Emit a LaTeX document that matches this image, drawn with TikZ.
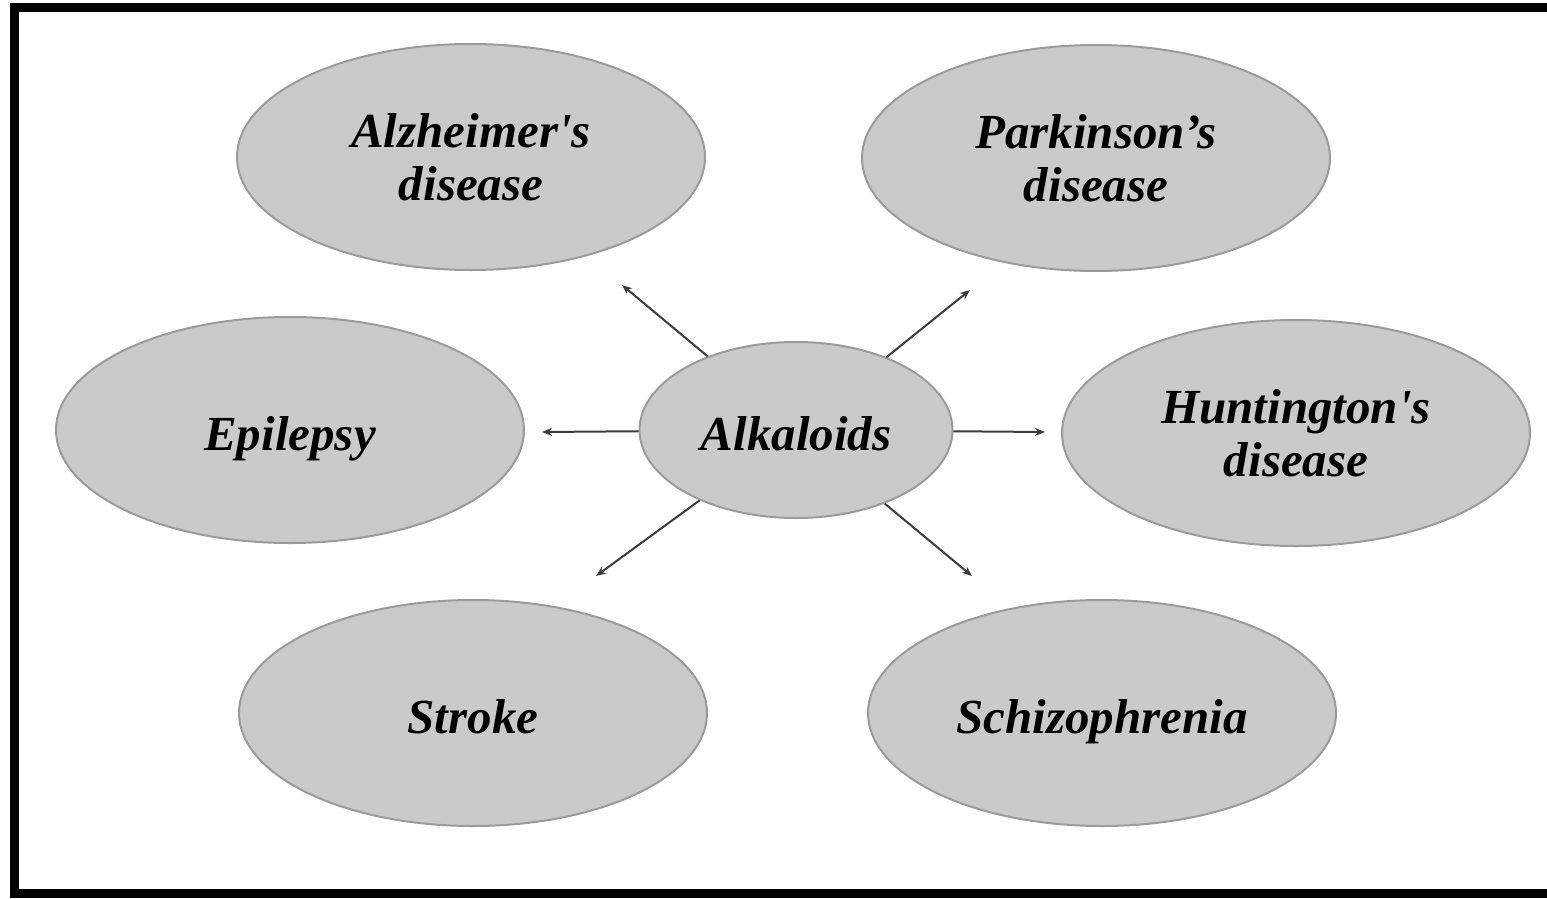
\documentclass[tikz,border=0pt]{standalone}
\usepackage{fontspec}
\setmainfont{Liberation Serif}
\usetikzlibrary{shapes.geometric,arrows.meta}
\definecolor{ellfill}{RGB}{202,202,202}
\definecolor{ellrim}{RGB}{155,155,155}
\definecolor{arrowcol}{RGB}{60,60,60}
\tikzset{
  disease/.style={ellipse, draw=ellrim, line width=1pt, fill=ellfill,
    minimum width=234pt, minimum height=113pt, inner sep=0pt,
    align=center, font=\fontsize{24.5}{26.5}\selectfont\bfseries\itshape},
  oneline/.style={text height=20pt, text depth=0pt},
  hub/.style={disease, oneline, minimum width=156.5pt, minimum height=88pt},
  link/.style={draw=arrowcol, line width=1pt, -{Stealth[length=5pt,width=4pt]}}
}
\begin{document}
\begin{tikzpicture}[x=0.5pt,y=-0.5pt]
\useasboundingbox (0,0) rectangle (1547,899);
\fill[white] (0,0) rectangle (1547,899);
\draw[line width=4.5pt, black] (1560,7.5) -- (14,7.5) -- (14,893.5) -- (1560,893.5);

\node[disease] (alz) at (471,157) {Alzheimer\textquotesingle s\\disease};
\node[disease] (park) at (1096,158) {Parkinson’s\\disease};
\node[disease, oneline] (epi) at (290,430) {Epilepsy};
\node[hub] (alk) at (796,430) {Alkaloids};
\node[disease] (hunt) at (1296,433) {Huntington\textquotesingle s\\disease};
\node[disease, oneline] (stroke) at (473,713) {Stroke};
\node[disease, oneline] (schizo) at (1102,713) {Schizophrenia};

\coordinate (eUL) at (622,285);
\coordinate (eUR) at (970,290);
\coordinate (eL) at (542,432);
\coordinate (eR) at (1045,432);
\coordinate (eLL) at (596,576);
\coordinate (eLR) at (972,576);

\draw[link] (alk) -- (eUL);
\draw[link] (alk) -- (eUR);
\draw[link] (alk) -- (eL);
\draw[link] (alk) -- (eR);
\draw[link] (alk) -- (eLL);
\draw[link] (alk) -- (eLR);
\end{tikzpicture}
\end{document}
